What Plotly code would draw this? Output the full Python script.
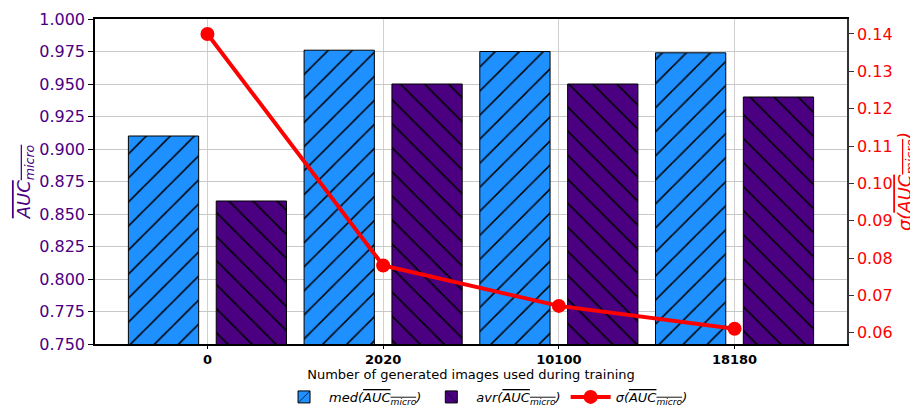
import plotly.graph_objects as go

# values
categories = ["0", "2020", "10100", "18180"]
med_auc = [0.910, 0.976, 0.975, 0.974]
avr_auc = [0.860, 0.950, 0.950, 0.940]
sigma_auc = [0.140, 0.078, 0.0672, 0.0611]

xpos = list(range(len(categories)))

AUC = "<span style='text-decoration:overline'>AUC<sub>micro</sub></span>"
FONT = "DejaVu Sans"

fig = go.Figure()

fig.add_trace(go.Bar(
    x=xpos, y=med_auc, name=f"<i>med({AUC})</i>",
    width=0.4, offset=-0.45,
    marker=dict(color="#1E90FF", line=dict(color="black", width=1),
                pattern=dict(shape="/", fgcolor="black", fgopacity=1, size=17, solidity=0.09)),
))
fig.add_trace(go.Bar(
    x=xpos, y=avr_auc, name=f"<i>avr({AUC})</i>",
    width=0.4, offset=0.05,
    marker=dict(color="#4B0082", line=dict(color="black", width=1),
                pattern=dict(shape="\\", fgcolor="black", fgopacity=1, size=17, solidity=0.09)),
))
fig.add_trace(go.Scatter(
    x=xpos, y=sigma_auc, name=f"<i>σ({AUC})</i>", yaxis="y2",
    mode="lines+markers",
    line=dict(color="red", width=4),
    marker=dict(color="red", size=14),
))

# the page body adds an 8px margin, so the figure is 8px smaller than the window
fig.update_layout(
    width=910, height=402,
    margin=dict(l=87, r=71, t=11, b=66, autoexpand=False),
    plot_bgcolor="white", paper_bgcolor="white",
    font=dict(family=FONT, size=13, color="black"),
    barmode="overlay",
    showlegend=True,
    legend=dict(orientation="h", x=0.52, xanchor="center", y=-0.163, yanchor="middle",
                font=dict(size=13), traceorder="normal", itemwidth=40),
    xaxis=dict(
        range=[-0.64, 3.64], automargin=False,
        tickvals=xpos, ticktext=[f"<b>{c}</b>" for c in categories],
        showgrid=True, gridcolor="#d0d0d0", gridwidth=1,
        ticks="outside", ticklen=3, tickcolor="black",
        showline=True, linecolor="black", linewidth=1.5, mirror=True,
        tickfont=dict(size=13),
        title=dict(text="Number of generated images used during training",
                   font=dict(size=13), standoff=0),
        zeroline=False,
    ),
    yaxis=dict(
        range=[0.75, 1.0], dtick=0.025, tickformat=".3f", automargin=False,
        showgrid=True, gridcolor="#c8c8c8", gridwidth=1,
        ticks="outside", ticklen=5, tickcolor="black",
        showline=True, linecolor="black", linewidth=1.5, mirror=True,
        tickfont=dict(size=16, color="#4B0082"),
        title=dict(text=f"<i>{AUC}</i>", font=dict(size=18, color="#4B0082"), standoff=4),
        zeroline=False,
    ),
    yaxis2=dict(
        overlaying="y", side="right", automargin=False,
        range=[0.057, 0.144], dtick=0.01, tickformat=".2f",
        showgrid=False,
        ticks="outside", ticklen=5, tickcolor="#333333",
        showline=True, linecolor="#333333", linewidth=1.5,
        tickfont=dict(size=16, color="red"),
        title=dict(text=f"<i>σ({AUC})</i>", font=dict(size=18, color="red"), standoff=10),
        zeroline=False,
    ),
)

fig.write_html("out.html")
